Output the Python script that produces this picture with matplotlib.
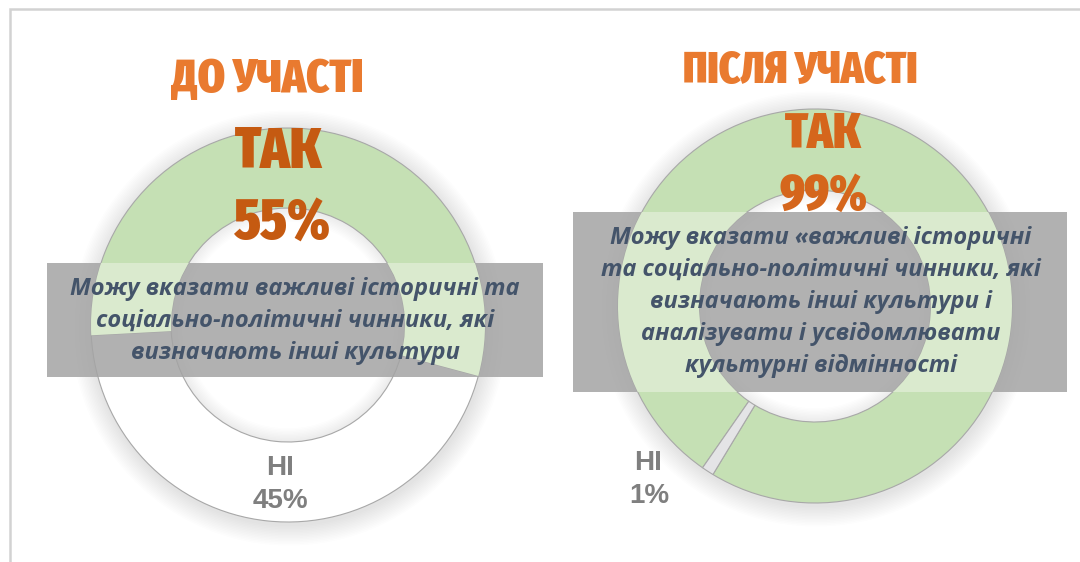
import matplotlib
matplotlib.use("Agg")
import matplotlib.pyplot as plt
from matplotlib.patches import Rectangle, Circle, Wedge

# ---------------- data ----------------
answer_labels = ["ТАК", "НІ"]
before_values = [55, 45]
after_values = [99, 1]
panel_titles = ["ДО УЧАСТІ", "ПІСЛЯ УЧАСТІ"]
before_lines = ["Можу вказати важливі історичні та",
                "соціально-політичні чинники, які",
                "визначають інші культури"]
after_lines = ["Можу вказати «важливі історичні",
               "та соціально-політичні чинники, які",
               "визначають інші культури і",
               "аналізувати і усвідомлювати",
               "культурні відмінності"]

# ---------------- styling ----------------
W, H = 1080, 562
GREEN = "#C5E0B4"
GREEN_LIGHT = "#DAEACE"
TITLE_FONT = ["Fira Sans Extra Condensed", "DejaVu Sans"]
BODY_FONT = ["Open Sans", "DejaVu Sans"]
LABEL_FONT = ["Liberation Sans", "DejaVu Sans"]

fig = plt.figure(figsize=(W / 100, H / 100), dpi=100)
ax = fig.add_axes([0, 0, 1, 1])


def Y(y):
    return H - y


panels = [
    dict(values=before_values, title=panel_titles[0], lines=before_lines,
         cx=288, cy=325, R=197, w=80, start=183, second_color="white",
         title_xy=(267, 92), title_size=34, title_color="#E97A2F",
         yes_xy=(279, 168), pct_xy=(282, 240), big_size=41, big_color="#C55A11",
         box=(47, 263, 543, 377), text_x=295, baselines=[295, 327, 359],
         no_xy=(280, 475), nopct_xy=(280, 508)),
    dict(values=after_values, title=panel_titles[1], lines=after_lines,
         cx=815, cy=306, R=197, w=81, start=235.2, second_color="#E4E4E6",
         title_xy=(800, 83), title_size=32, title_color="#E97A2F",
         yes_xy=(823, 148), pct_xy=(823, 210), big_size=36, big_color="#D5661C",
         box=(573, 212, 1067, 392), text_x=821, baselines=[244, 276, 308, 340, 372],
         no_xy=(648, 470), nopct_xy=(649, 503)),
]

for p in panels:
    cx, cy, R, w = p["cx"], Y(p["cy"]), p["R"], p["w"]
    # soft outer shadow
    for k in range(14):
        ax.add_patch(Circle((cx + 1, cy - 3), R + 1 + k * 1.5, color="#5a5a6a",
                            alpha=0.011, lw=0, zorder=1))
    # hole + inner shadow
    ax.add_patch(Circle((cx, cy), R - w, color="white", lw=0, zorder=1.5))
    for k in range(10):
        ax.add_patch(Wedge((cx, cy), R - w, 0, 360, width=1 + k * 1.4,
                           color="#606060", alpha=0.013, lw=0, zorder=1.6))
    wedges, _ = ax.pie(p["values"], colors=[GREEN, p["second_color"]],
                       startangle=p["start"], counterclock=False,
                       center=(cx, cy), radius=R, frame=True,
                       wedgeprops=dict(width=w, edgecolor="#a8a8a8", linewidth=0.8))
    for wd in wedges:
        wd.set_zorder(2)

    # translucent gray caption box
    x0, y0, x1, y1 = p["box"]
    rect = Rectangle((x0, Y(y1)), x1 - x0, y1 - y0, facecolor="#a4a4a4",
                     alpha=0.85, lw=0, zorder=3)
    ax.add_patch(rect)
    over, _ = ax.pie(p["values"], colors=[GREEN_LIGHT, "none"],
                     startangle=p["start"], counterclock=False,
                     center=(cx, cy), radius=R, frame=True,
                     wedgeprops=dict(width=w, edgecolor="none", linewidth=0))
    for wd in over:
        wd.set_zorder(3.5)
        wd.set_clip_on(True)
        wd.set_clip_path(rect.get_path(), rect.get_transform())

    for line, by in zip(p["lines"], p["baselines"]):
        ax.text(p["text_x"], Y(by), line, ha="center", va="baseline",
                fontsize=17, fontweight="bold", fontstyle="italic",
                color="#44546A", family=BODY_FONT, zorder=5)

    # titles / yes share
    ax.text(p["title_xy"][0], Y(p["title_xy"][1]), p["title"], ha="center",
            va="baseline", fontsize=p["title_size"], fontweight=900,
            color=p["title_color"], family=TITLE_FONT, zorder=6)
    ax.text(p["yes_xy"][0], Y(p["yes_xy"][1]), answer_labels[0], ha="center",
            va="baseline", fontsize=p["big_size"], fontweight=900,
            color=p["big_color"], family=TITLE_FONT, zorder=6)
    ax.text(p["pct_xy"][0], Y(p["pct_xy"][1]), f"{p['values'][0]}%", ha="center",
            va="baseline", fontsize=p["big_size"], fontweight=900,
            color=p["big_color"], family=TITLE_FONT, zorder=6)
    # no share
    ax.text(p["no_xy"][0], Y(p["no_xy"][1]), answer_labels[1], ha="center",
            va="baseline", fontsize=20, fontweight="bold", color="#7F7F7F",
            family=LABEL_FONT, zorder=6)
    ax.text(p["nopct_xy"][0], Y(p["nopct_xy"][1]), f"{p['values'][1]}%", ha="center",
            va="baseline", fontsize=20, fontweight="bold", color="#7F7F7F",
            family=LABEL_FONT, zorder=6)

# slide frame (top and left edges)
ax.plot([10, 10, W + 5], [Y(H + 5), Y(9), Y(9)], color="#d2d2d2", lw=1.8,
        solid_joinstyle="miter", zorder=0.5)

ax.set_xlim(0, W)
ax.set_ylim(0, H)
ax.set_aspect("equal")
ax.axis("off")
fig.savefig("out.png", dpi=100, facecolor="white")
